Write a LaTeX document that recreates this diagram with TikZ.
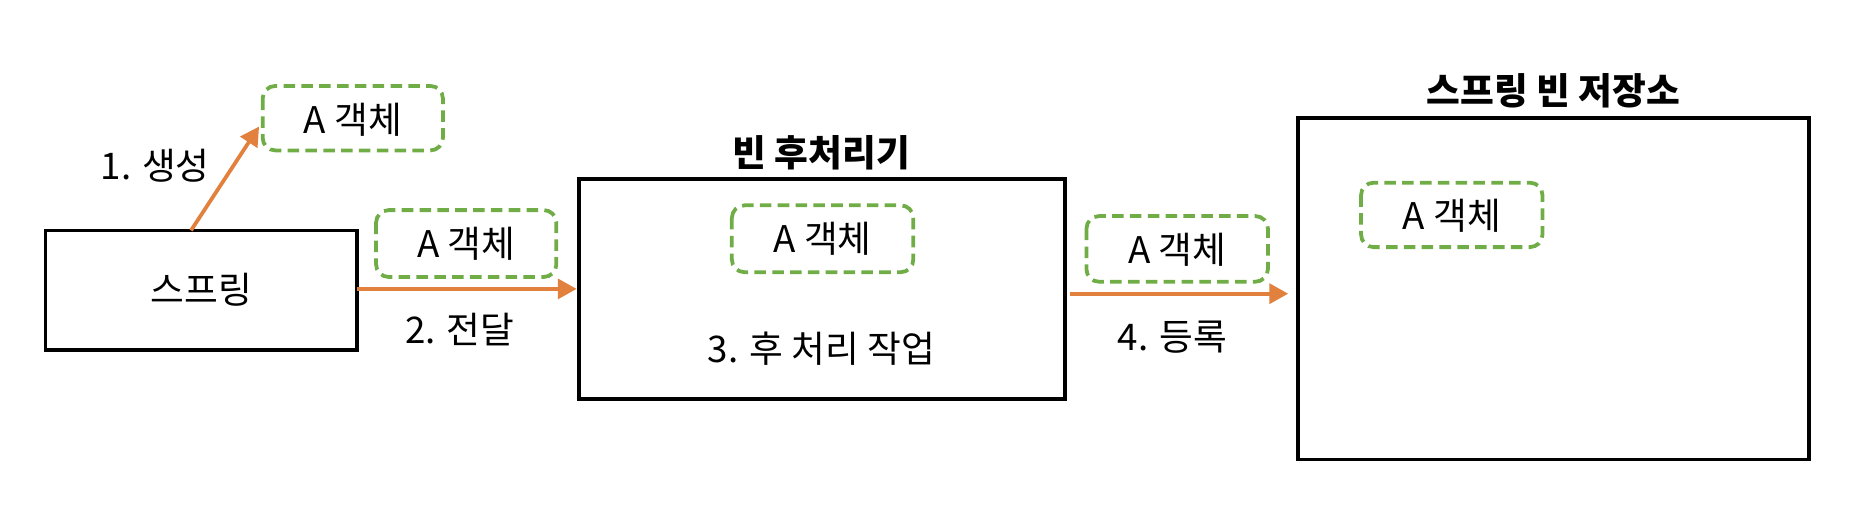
\documentclass[tikz,border=0pt]{standalone}
\usepackage{fontspec}
\setmainfont{Noto Sans CJK KR}
\usetikzlibrary{arrows.meta}
\definecolor{objgreen}{HTML}{70AD47}
\definecolor{arrorange}{HTML}{E2803E}
\tikzset{
  txt/.style={font=\fontsize{17.5}{20}\selectfont, inner sep=0pt},
  ttl/.style={font=\fontsize{17.5}{20}\selectfont\bfseries, inner sep=0pt},
  blackbox/.style={draw=black, line width=1.7pt, inner sep=0pt},
  objbox/.style={draw=objgreen, line width=1.8pt, dash pattern=on 5.5pt off 3pt, rounded corners=6pt, inner sep=0pt},
  flow/.style={draw=arrorange, line width=1.8pt, -{Triangle[length=9pt,width=9.5pt]}}
}
\begin{document}
\begin{tikzpicture}[x=0.02cm,y=-0.02cm]
\useasboundingbox (0,0) rectangle (1568,445.6);
% main boxes
\draw[blackbox] (38,193) rectangle (299,293);
\node[txt] (spring) at (168.5,243) {스프링};
\coordinate (springTop) at (160,193);
\coordinate (springRight) at (299,242);
\draw[blackbox] (485,150) rectangle (892,334);
\coordinate (bppLeft) at (483,242);
\coordinate (bppRight) at (896,246);
\node[ttl] (bppTitle) at (688,128) {빈 후처리기};
\node[txt] (work) at (688,292) {3. 후 처리 작업};
\draw[blackbox] (1087,99) rectangle (1515,385);
\coordinate (storeLeft) at (1079,246);
\node[ttl] (storeTitle) at (1301,76) {스프링 빈 저장소};
% object boxes
\draw[objbox] (220,72) rectangle (371,126);
\node[txt] (obj1) at (295.5,100) {A 객체};
\coordinate (obj1In) at (217,106);
\draw[objbox] (315,176) rectangle (466,232);
\node[txt] (obj2) at (390.5,204) {A 객체};
\draw[objbox] (613,172) rectangle (765,228);
\node[txt] (obj3) at (689,200) {A 객체};
\draw[objbox] (910,181) rectangle (1062,236);
\node[txt] (obj4) at (986,209) {A 객체};
\draw[objbox] (1140,153) rectangle (1292,207);
\node[txt] (obj5) at (1216,181) {A 객체};
% arrows
\draw[flow] (springTop) -- (obj1In);
\draw[flow] (springRight) -- (bppLeft);
\draw[flow] (bppRight) -- (storeLeft);
% labels
\node[txt] (l1) at (130,139) {1. 생성};
\node[txt] (l2) at (385,276) {2. 전달};
\node[txt] (l4) at (982,282) {4. 등록};
\end{tikzpicture}
\end{document}
